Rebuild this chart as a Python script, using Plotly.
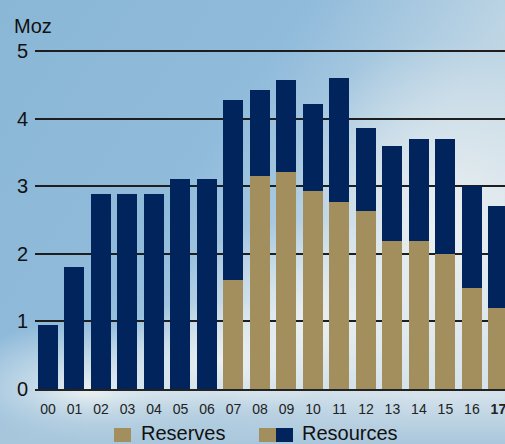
import base64
import plotly.graph_objects as go

years = ["00", "01", "02", "03", "04", "05", "06", "07", "08", "09",
         "10", "11", "12", "13", "14", "15", "16", "17"]
reserves = [0, 0, 0, 0, 0, 0, 0, 1.61, 3.16, 3.21, 2.93, 2.77, 2.64, 2.19, 2.19, 2.00, 1.50, 1.20]
resources = [0.95, 1.81, 2.89, 2.89, 2.89, 3.11, 3.11, 2.67, 1.27, 1.37, 1.29, 1.84, 1.23, 1.41, 1.51, 1.70, 1.50, 1.51]
tick_text = years[:-1] + ["<b>17</b>"]

GOLD = "#a38e5e"
NAVY = "#00245b"
FONT = "Liberation Sans, Arial, sans-serif"

W, H = 505, 444
ML, MR, MT, MB = 35, 0, 48, 55
PW, PH = W - ML - MR, H - MT - MB


def px(x):
    return (x - ML) / PW


def py(y):
    return (H - MB - y) / PH


svg = f"""<svg xmlns='http://www.w3.org/2000/svg' width='{W}' height='{H}' viewBox='0 0 {W} {H}'>
<defs>
<linearGradient id='g' x1='0' y1='0' x2='1' y2='0.6'>
<stop offset='0' stop-color='#8bb7d7'/>
<stop offset='0.45' stop-color='#90bbdb'/>
<stop offset='0.75' stop-color='#bcd4e4'/>
<stop offset='1' stop-color='#d2e0ea'/>
</linearGradient>
<radialGradient id='c1' cx='0.5' cy='0.5' r='0.5'>
<stop offset='0' stop-color='#eef2f2' stop-opacity='0.95'/>
<stop offset='1' stop-color='#eef2f2' stop-opacity='0'/>
</radialGradient>
<linearGradient id='b' x1='0' y1='0' x2='0' y2='1'>
<stop offset='0' stop-color='#a9c7dc' stop-opacity='0'/>
<stop offset='1' stop-color='#a9c7dc' stop-opacity='1'/>
</linearGradient>
</defs>
<rect width='{W}' height='{H}' fill='url(#g)'/>
<ellipse cx='440' cy='230' rx='160' ry='190' fill='url(#c1)'/>
<ellipse cx='310' cy='320' rx='150' ry='100' fill='url(#c1)'/>
<ellipse cx='90' cy='390' rx='140' ry='70' fill='url(#c1)'/>
<ellipse cx='220' cy='360' rx='120' ry='60' fill='url(#c1)'/>
<rect y='395' width='{W}' height='49' fill='url(#b)'/>
</svg>"""
src = "data:image/svg+xml;base64," + base64.b64encode(svg.encode()).decode()

fig = go.Figure()
fig.add_trace(go.Bar(x=years, y=reserves, name="Reserves", marker=dict(color=GOLD, line=dict(width=0))))
fig.add_trace(go.Bar(x=years, y=resources, name="Resources", marker=dict(color=NAVY, line=dict(width=0))))

fig.update_layout(
    width=W, height=H,
    margin=dict(l=ML, r=MR, t=MT, b=MB),
    barmode="stack", bargap=0.245,
    showlegend=False,
    paper_bgcolor="#a8c6dc",
    plot_bgcolor="rgba(0,0,0,0)",
    font=dict(family=FONT, color="#111111"),
    images=[dict(source=src, xref="paper", yref="paper", x=px(0), y=py(0),
                 sizex=W / PW, sizey=H / PH, sizing="stretch", layer="below",
                 xanchor="left", yanchor="top")],
    xaxis=dict(type="category", range=[-0.49, 17.25], tickvals=years, ticktext=tick_text,
               showgrid=False, showline=True, linecolor="#222222", linewidth=1.5,
               ticks="", tickfont=dict(size=14, color="#222222"), ticklabelstandoff=6,
               fixedrange=True),
    yaxis=dict(range=[0, 5.05], tickvals=[0, 1, 2, 3, 4, 5], showgrid=True,
               gridcolor="#1e1e1e", gridwidth=1.5, zeroline=False, showline=False,
               ticks="", tickfont=dict(size=20, color="#111111"), ticklabelstandoff=6),
    annotations=[
        dict(text="Moz", xref="paper", yref="paper", x=px(12), y=py(26), xanchor="left",
             yanchor="middle", showarrow=False, font=dict(size=20, color="#111111")),
        dict(text="Reserves", xref="paper", yref="paper", x=px(139), y=py(433), xanchor="left",
             yanchor="middle", showarrow=False, font=dict(size=20, color="#111111")),
        dict(text="Resources", xref="paper", yref="paper", x=px(300), y=py(433), xanchor="left",
             yanchor="middle", showarrow=False, font=dict(size=20, color="#111111")),
    ],
    shapes=[
        dict(type="rect", xref="paper", yref="paper", x0=px(114), x1=px(131), y0=py(442), y1=py(428),
             fillcolor=GOLD, line=dict(width=0)),
        dict(type="rect", xref="paper", yref="paper", x0=px(259), x1=px(276), y0=py(442), y1=py(428),
             fillcolor=GOLD, line=dict(width=0)),
        dict(type="rect", xref="paper", yref="paper", x0=px(276), x1=px(293), y0=py(442), y1=py(428),
             fillcolor=NAVY, line=dict(width=0)),
    ],
)

fig.write_html("out.html")
